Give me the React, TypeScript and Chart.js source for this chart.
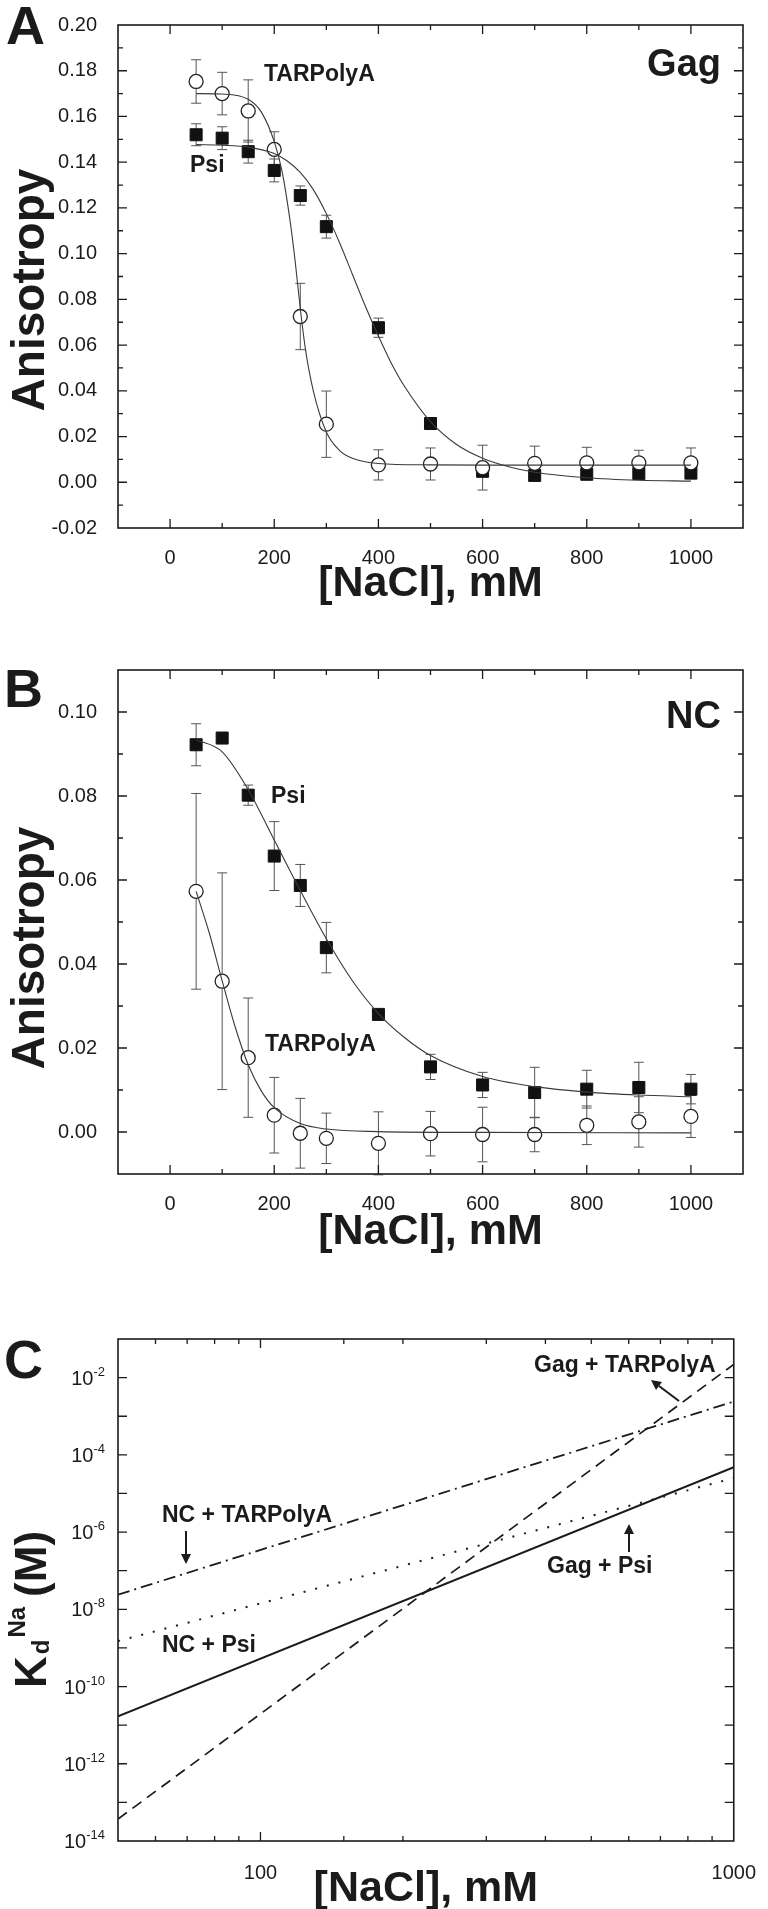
import React, { useEffect, useRef } from "react";
import { Chart, registerables } from "chart.js";

Chart.register(...registerables);

const FONT = "'Liberation Sans', Arial, Helvetica, sans-serif";
const INK = "#1b1b1b";

// ---------- shared salt concentrations (mM) ----------
const saltMM = [50, 100, 150, 200, 250, 300, 400, 500, 600, 700, 800, 900, 1000];
const saltTickLabels = [0, 200, 400, 600, 800, 1000];

// ---------- Panel A : Gag ----------
const gagTarAniso = [0.1753, 0.170, 0.1624, 0.1456, 0.0725, 0.0254, 0.0076, 0.0080, 0.0064, 0.0083, 0.0085, 0.0085, 0.0085];
const gagTarErr = [0.0095, 0.0093, 0.0136, 0.0077, 0.0145, 0.0145, 0.0066, 0.0070, 0.0098, 0.0075, 0.0068, 0.0055, 0.0065];
const gagPsiAniso = [0.1520, 0.1505, 0.1446, 0.1364, 0.1254, 0.1118, 0.0676, 0.0257, 0.0048, 0.0030, 0.0035, 0.0038, 0.0040];
const gagPsiErr = [0.0048, 0.0050, 0.0050, 0.0050, 0.0042, 0.0050, 0.0042, 0.0020, 0.0020, 0.0020, 0.0015, 0.0015, 0.0015];
const gagTarFitX = [50, 100, 150, 175, 200, 215, 230, 240, 250, 260, 275, 300, 325, 350, 400, 500, 600, 1000];
const gagTarFitY = [0.1700, 0.1698, 0.1675, 0.1620, 0.1490, 0.1360, 0.1150, 0.0970, 0.0760, 0.0580, 0.0400, 0.0220, 0.0140, 0.0105, 0.0082, 0.0076, 0.0075, 0.0075];
const gagPsiFitX = [50, 100, 150, 200, 225, 250, 275, 300, 325, 350, 375, 400, 425, 450, 500, 550, 600, 650, 700, 800, 900, 1000];
const gagPsiFitY = [0.1477, 0.1474, 0.1466, 0.1438, 0.1405, 0.1355, 0.1280, 0.1175, 0.1050, 0.0910, 0.0770, 0.0640, 0.0520, 0.0420, 0.0265, 0.0165, 0.0105, 0.0068, 0.0044, 0.0020, 0.0009, 0.0005];
const anisoLabelsA = [-0.02, 0, 0.02, 0.04, 0.06, 0.08, 0.10, 0.12, 0.14, 0.16, 0.18, 0.20];

// ---------- Panel B : NC ----------
const ncPsiAniso = [0.0922, 0.0938, 0.0802, 0.0657, 0.0587, 0.0439, 0.0280, 0.0155, 0.0112, 0.0094, 0.0102, 0.0106, 0.0102];
const ncPsiErr = [0.0050, 0.0008, 0.0024, 0.0082, 0.0050, 0.0060, 0.0010, 0.0030, 0.0030, 0.0060, 0.0045, 0.0060, 0.0035];
const ncTarAniso = [0.0573, 0.0359, 0.0177, 0.0040, -0.0003, -0.0015, -0.0027, -0.0004, -0.0006, -0.0006, 0.0016, 0.0024, 0.0037];
const ncTarErr = [0.0233, 0.0258, 0.0142, 0.0090, 0.0083, 0.0060, 0.0075, 0.0053, 0.0065, 0.0041, 0.0046, 0.0060, 0.0050];
const ncPsiFitX = [50, 100, 150, 200, 250, 300, 350, 400, 450, 500, 600, 700, 800, 900, 1000];
const ncPsiFitY = [0.0934, 0.0905, 0.0815, 0.0695, 0.0575, 0.0460, 0.0360, 0.0282, 0.0225, 0.0182, 0.0132, 0.0108, 0.0095, 0.0088, 0.0084];
const ncTarFitX = [50, 75, 100, 125, 150, 175, 200, 250, 300, 400, 600, 1000];
const ncTarFitY = [0.0573, 0.0475, 0.0360, 0.0250, 0.0160, 0.0098, 0.0058, 0.0020, 0.0007, 0.0001, -0.0001, -0.0002];
const anisoLabelsB = [0, 0.02, 0.04, 0.06, 0.08, 0.10];

// ---------- Panel C : Kd vs NaCl (log-log) ----------
const kdSaltMM = [50, 1000];
const kdGagTar = [3.7e-14, 2.2e-2];
const kdGagPsi = [1.7e-11, 4.8e-5];
const kdNcTar = [2.4e-8, 2.4e-3];
const kdNcPsi = [1.5e-9, 2.5e-5];
const kdDecades = [-14, -13, -12, -11, -10, -9, -8, -7, -6, -5, -4, -3, -2, -1];
const kdLabelDecades = [-14, -12, -10, -8, -6, -4, -2];
const kdSaltLabels = [100, 1000];

const pts = (xs: number[], ys: number[]) => xs.map((x, i) => ({ x, y: ys[i] }));
const near = (v: number, arr: number[]) => arr.some((a) => Math.abs(a - v) < 1e-9);

function txt(ctx: CanvasRenderingContext2D, s: string, x: number, y: number, font: string, align: CanvasTextAlign = "left") {
  ctx.save();
  ctx.font = font;
  ctx.fillStyle = INK;
  ctx.textAlign = align;
  ctx.textBaseline = "alphabetic";
  ctx.fillText(s, x, y);
  ctx.restore();
}

function rotTxt(ctx: CanvasRenderingContext2D, s: string, x: number, y: number, font: string) {
  ctx.save();
  ctx.translate(x, y);
  ctx.rotate(-Math.PI / 2);
  ctx.font = font;
  ctx.fillStyle = INK;
  ctx.textAlign = "center";
  ctx.textBaseline = "alphabetic";
  ctx.fillText(s, 0, 0);
  ctx.restore();
}

function arrow(ctx: CanvasRenderingContext2D, x1: number, y1: number, x2: number, y2: number) {
  const a = Math.atan2(y2 - y1, x2 - x1);
  const hl = 10, hw = 5;
  ctx.save();
  ctx.strokeStyle = INK;
  ctx.fillStyle = INK;
  ctx.lineWidth = 2;
  ctx.beginPath();
  ctx.moveTo(x1, y1);
  ctx.lineTo(x2 - Math.cos(a) * hl, y2 - Math.sin(a) * hl);
  ctx.stroke();
  ctx.beginPath();
  ctx.moveTo(x2, y2);
  ctx.lineTo(x2 - Math.cos(a) * hl - Math.sin(a) * hw, y2 - Math.sin(a) * hl + Math.cos(a) * hw);
  ctx.lineTo(x2 - Math.cos(a) * hl + Math.sin(a) * hw, y2 - Math.sin(a) * hl - Math.cos(a) * hw);
  ctx.closePath();
  ctx.fill();
  ctx.restore();
}

// frame + inward ticks on all four sides
function drawFrame(chart: any, xMajor: (v: number, lbl: any) => boolean, yMajor: (v: number, lbl: any) => boolean) {
  const { ctx, chartArea: ca, scales } = chart;
  const xs = scales.x, ys = scales.y;
  ctx.save();
  ctx.strokeStyle = INK;
  ctx.lineWidth = 1.3;
  xs.ticks.forEach((t: any) => {
    const px = xs.getPixelForValue(t.value);
    if (px <= ca.left + 1 || px >= ca.right - 1) return;
    const L = xMajor(t.value, t.label) ? 9 : 5;
    ctx.beginPath();
    ctx.moveTo(px, ca.bottom); ctx.lineTo(px, ca.bottom - L);
    ctx.moveTo(px, ca.top); ctx.lineTo(px, ca.top + L);
    ctx.stroke();
  });
  ys.ticks.forEach((t: any) => {
    const py = ys.getPixelForValue(t.value);
    if (py <= ca.top + 1 || py >= ca.bottom - 1) return;
    const L = yMajor(t.value, t.label) ? 9 : 5;
    ctx.beginPath();
    ctx.moveTo(ca.left, py); ctx.lineTo(ca.left + L, py);
    ctx.moveTo(ca.right, py); ctx.lineTo(ca.right - L, py);
    ctx.stroke();
  });
  ctx.lineWidth = 1.6;
  ctx.strokeRect(ca.left, ca.top, ca.right - ca.left, ca.bottom - ca.top);
  ctx.restore();
}

const errorBarPlugin = {
  id: "errbars",
  beforeDatasetsDraw(chart: any) {
    const { ctx, scales } = chart;
    ctx.save();
    ctx.strokeStyle = "#555";
    ctx.lineWidth = 1;
    chart.data.datasets.forEach((ds: any) => {
      if (!ds.errorBars) return;
      ds.data.forEach((p: any, i: number) => {
        const e = ds.errorBars[i];
        const px = scales.x.getPixelForValue(p.x);
        const top = scales.y.getPixelForValue(p.y + e);
        const bot = scales.y.getPixelForValue(p.y - e);
        ctx.beginPath();
        ctx.moveTo(px, top); ctx.lineTo(px, bot);
        ctx.moveTo(px - 5, top); ctx.lineTo(px + 5, top);
        ctx.moveTo(px - 5, bot); ctx.lineTo(px + 5, bot);
        ctx.stroke();
      });
    });
    ctx.restore();
  },
};

const circleStyle = { pointStyle: "circle", pointRadius: 7, backgroundColor: "#ffffff", borderColor: "#222", borderWidth: 1.3, showLine: false };
const squareStyle = { pointStyle: "rect", pointRadius: 8.5, backgroundColor: "#111", borderColor: "#111", borderWidth: 1, showLine: false };
const fitStyle = { showLine: true, pointRadius: 0, borderColor: "#3a3a3a", borderWidth: 1.1, cubicInterpolationMode: "monotone", fill: false };

function linearScales(yMin: number, yMax: number, yLabels: number[], xAxisH: number) {
  return {
    x: {
      type: "linear", min: -100, max: 1100,
      grid: { display: false }, border: { display: false },
      ticks: {
        stepSize: 100, autoSkip: false, maxRotation: 0, padding: 10, color: INK,
        font: { size: 20, family: FONT },
        callback: (v: number) => (near(v, saltTickLabels) ? String(v) : ""),
      },
      afterFit: (s: any) => { s.height = xAxisH; },
    },
    y: {
      type: "linear", min: yMin, max: yMax,
      grid: { display: false }, border: { display: false },
      ticks: {
        stepSize: 0.01, autoSkip: false, padding: 13, color: INK,
        font: { size: 20, family: FONT },
        callback: (v: number) => (near(v, yLabels) ? (Math.abs(v) < 1e-9 ? "0.00" : v.toFixed(2)) : ""),
      },
      afterFit: (s: any) => { s.width = 118; },
    },
  };
}

function configA(): any {
  return {
    type: "scatter",
    data: {
      datasets: [
        { label: "TARPolyA fit", data: pts(gagTarFitX, gagTarFitY), ...fitStyle, order: 0 },
        { label: "Psi fit", data: pts(gagPsiFitX, gagPsiFitY), ...fitStyle, order: 1 },
        { label: "TARPolyA", data: pts(saltMM, gagTarAniso), errorBars: gagTarErr, ...circleStyle, order: 2 },
        { label: "Psi", data: pts(saltMM, gagPsiAniso), errorBars: gagPsiErr, ...squareStyle, order: 3 },
      ],
    },
    options: {
      responsive: false, animation: false,
      layout: { padding: { top: 22, right: 25, left: 0, bottom: 0 } },
      plugins: { legend: { display: false }, tooltip: { enabled: false } },
      scales: linearScales(-0.02, 0.2, anisoLabelsA, 102),
    },
    plugins: [
      errorBarPlugin,
      {
        id: "decorA",
        afterDraw(chart: any) {
          const ctx = chart.ctx, ca = chart.chartArea;
          drawFrame(chart, (v, l) => l !== "", (v, l) => l !== "");
          txt(ctx, "A", 6, 44, `bold 54px ${FONT}`);
          txt(ctx, "Gag", 721, 76, `bold 38px ${FONT}`, "right");
          txt(ctx, "TARPolyA", 264, 81, `bold 23px ${FONT}`);
          txt(ctx, "Psi", 190, 172, `bold 23px ${FONT}`);
          txt(ctx, "[NaCl], mM", (ca.left + ca.right) / 2, ca.bottom + 68, `bold 43px ${FONT}`, "center");
          rotTxt(ctx, "Anisotropy", 44, 290, `bold 46px ${FONT}`);
        },
      },
    ],
  };
}

function configB(): any {
  return {
    type: "scatter",
    data: {
      datasets: [
        { label: "Psi fit", data: pts(ncPsiFitX, ncPsiFitY), ...fitStyle, order: 0 },
        { label: "TARPolyA fit", data: pts(ncTarFitX, ncTarFitY), ...fitStyle, order: 1 },
        { label: "TARPolyA", data: pts(saltMM, ncTarAniso), errorBars: ncTarErr, ...circleStyle, order: 2 },
        { label: "Psi", data: pts(saltMM, ncPsiAniso), errorBars: ncPsiErr, ...squareStyle, order: 3 },
      ],
    },
    options: {
      responsive: false, animation: false,
      layout: { padding: { top: 40, right: 25, left: 0, bottom: 0 } },
      plugins: { legend: { display: false }, tooltip: { enabled: false } },
      scales: linearScales(-0.01, 0.11, anisoLabelsB, 116),
    },
    plugins: [
      errorBarPlugin,
      {
        id: "decorB",
        afterDraw(chart: any) {
          const ctx = chart.ctx, ca = chart.chartArea;
          drawFrame(chart, (v, l) => l !== "", (v, l) => l !== "");
          txt(ctx, "B", 4, 77, `bold 54px ${FONT}`);
          txt(ctx, "NC", 721, 98, `bold 38px ${FONT}`, "right");
          txt(ctx, "Psi", 271, 173, `bold 23px ${FONT}`);
          txt(ctx, "TARPolyA", 265, 421, `bold 23px ${FONT}`);
          txt(ctx, "[NaCl], mM", (ca.left + ca.right) / 2, ca.bottom + 70, `bold 43px ${FONT}`, "center");
          rotTxt(ctx, "Anisotropy", 44, 318, `bold 46px ${FONT}`);
        },
      },
    ],
  };
}

function configC(): any {
  const line = (label: string, ys: number[], dash: number[], w: number) => ({
    label, data: pts(kdSaltMM, ys), showLine: true, pointRadius: 0, borderColor: INK,
    borderWidth: w, borderDash: dash, fill: false,
  });
  return {
    type: "scatter",
    data: {
      datasets: [
        line("Gag + TARPolyA", kdGagTar, [11, 7], 1.7),
        line("Gag + Psi", kdGagPsi, [], 2),
        line("NC + TARPolyA", kdNcTar, [12, 5, 2, 5], 1.8),
        line("NC + Psi", kdNcPsi, [2, 10], 2),
      ],
    },
    options: {
      responsive: false, animation: false,
      layout: { padding: { top: 49, right: 25, left: 0, bottom: 0 } },
      plugins: { legend: { display: false }, tooltip: { enabled: false } },
      scales: {
        x: {
          type: "logarithmic", min: 50, max: 1000,
          grid: { display: false }, border: { display: false },
          ticks: {
            autoSkip: false, maxRotation: 0, padding: 12, color: INK,
            font: { size: 20, family: FONT },
            callback: (v: number) => (near(v, kdSaltLabels) ? String(v) : ""),
          },
          afterFit: (s: any) => { s.height = 68; },
        },
        y: {
          type: "logarithmic", min: 1e-14, max: 1e-1,
          grid: { display: false }, border: { display: false },
          ticks: { display: false },
          afterBuildTicks: (s: any) => { s.ticks = kdDecades.map((e) => ({ value: Math.pow(10, e) })); },
          afterFit: (s: any) => { s.width = 118; },
        },
      },
    },
    plugins: [
      {
        id: "decorC",
        afterDraw(chart: any) {
          const ctx = chart.ctx, ca = chart.chartArea;
          drawFrame(chart, (v) => Math.abs(v - 100) < 1e-6, () => true);
          // y tick labels 10^n
          kdLabelDecades.forEach((e) => {
            const py = chart.scales.y.getPixelForValue(Math.pow(10, e));
            ctx.save();
            ctx.fillStyle = INK;
            ctx.textBaseline = "alphabetic";
            ctx.font = `13px ${FONT}`;
            const ex = String(e);
            const ew = ctx.measureText(ex).width;
            ctx.textAlign = "left";
            ctx.fillText(ex, 105 - ew, py - 2);
            ctx.font = `20px ${FONT}`;
            ctx.textAlign = "right";
            ctx.fillText("10", 105 - ew, py + 7);
            ctx.restore();
          });
          txt(ctx, "C", 4, 88, `bold 54px ${FONT}`);
          txt(ctx, "Gag + TARPolyA", 534, 82, `bold 23px ${FONT}`);
          arrow(ctx, 679, 111, 651, 90);
          txt(ctx, "NC + TARPolyA", 162, 232, `bold 23px ${FONT}`);
          arrow(ctx, 186, 241, 186, 274);
          txt(ctx, "Gag + Psi", 547, 283, `bold 23px ${FONT}`);
          arrow(ctx, 629, 262, 629, 234);
          txt(ctx, "NC + Psi", 162, 362, `bold 23px ${FONT}`);
          txt(ctx, "[NaCl], mM", (ca.left + ca.right) / 2, ca.bottom + 60, `bold 43px ${FONT}`, "center");
          // y title: K_d^Na (M), rotated
          ctx.save();
          ctx.translate(46, 398);
          ctx.rotate(-Math.PI / 2);
          ctx.fillStyle = INK;
          ctx.textBaseline = "alphabetic";
          ctx.font = `bold 44px ${FONT}`;
          ctx.fillText("K", 0, 0);
          let w = ctx.measureText("K").width + 2;
          ctx.font = `bold 24px ${FONT}`;
          ctx.fillText("d", w, 3);
          w += ctx.measureText("d").width + 2;
          ctx.fillText("Na", w, -21);
          w += ctx.measureText("Na").width + 10;
          ctx.font = `bold 44px ${FONT}`;
          ctx.fillText("(M)", w, 0);
          ctx.restore();
        },
      },
    ],
  };
}

function ChartCanvas({ top, height, make }: { top: number; height: number; make: () => any }) {
  const ref = useRef<HTMLCanvasElement | null>(null);
  useEffect(() => {
    if (!ref.current) return;
    const chart = new Chart(ref.current, make());
    return () => chart.destroy();
  }, []);
  return (
    <canvas
      ref={ref}
      width={768}
      height={height}
      style={{ position: "absolute", left: 0, top, width: 768, height }}
    />
  );
}

export default function App() {
  useEffect(() => {
    Chart.defaults.font.family = FONT;
  }, []);
  return (
    <div style={{ position: "absolute", left: 0, top: 0, width: 768, height: 1909, background: "#fff", overflow: "hidden" }}>
      <ChartCanvas top={0} height={630} make={configA} />
      <ChartCanvas top={630} height={660} make={configB} />
      <ChartCanvas top={1290} height={619} make={configC} />
    </div>
  );
}
